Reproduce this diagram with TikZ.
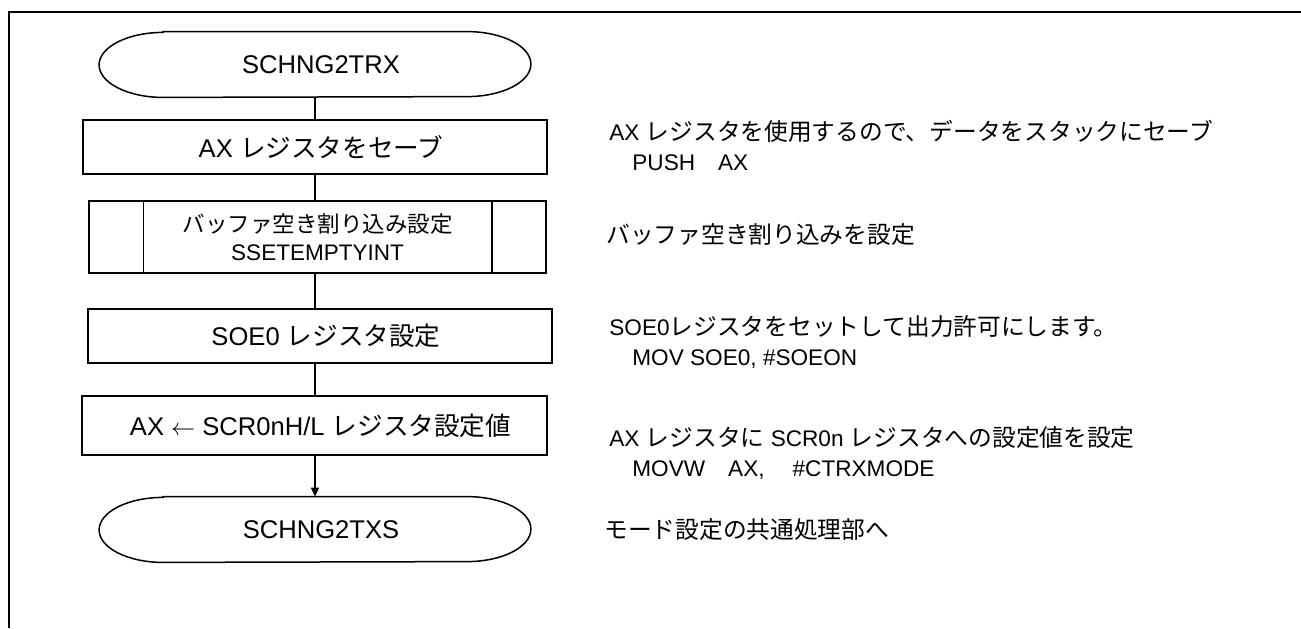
\documentclass[tikz,border=0pt]{standalone}
\usepackage{fontspec}
\setmainfont{Liberation Sans}
\newfontfamily\jp{Noto Sans CJK JP}
\newfontfamily\notejp[Scale=1.05]{Noto Sans CJK JP}
\usetikzlibrary{arrows.meta}

\tikzset{
  procbox/.style={draw,line width=0.75pt,inner sep=0pt,minimum width=232pt,minimum height=27pt,font=\fontsize{12.8pt}{15pt}\selectfont},
  termbox/.style={inner sep=0pt,minimum width=215.5pt,minimum height=32.5pt,font=\fontsize{12.8pt}{15pt}\selectfont},
  notetext/.style={anchor=west,align=left,inner sep=0pt,font=\fontsize{11.3pt}{15pt}\selectfont},
  flow/.style={line width=0.75pt},
}

% outline of a terminal node
\newcommand\termoutline[1]{%
  \draw[flow] ([xshift=32pt]#1.north west) -- ([xshift=-32pt]#1.north east)
    arc[start angle=90,end angle=-90,x radius=32pt,y radius=16.25pt]
    -- ([xshift=32pt]#1.south west)
    arc[start angle=270,end angle=90,x radius=32pt,y radius=16.25pt] -- cycle;}

\begin{document}
\begin{tikzpicture}[x=0.5pt,y=-0.5pt]

\useasboundingbox (0,0) rectangle (1301,628);
\draw[line width=1pt] (9,628) -- (9,12) -- (1301,12);

\node[termbox] (trx) at (315,64.5) {\hspace*{6pt}SCHNG2TRX};
\termoutline{trx}
\node[procbox] (save) at (315,147) {\hspace*{6pt}AX {\jp レジスタをセーブ}};
\node[procbox,minimum width=228.5pt,minimum height=36pt,align=center,font=\fontsize{11.25pt}{14pt}\selectfont] (bufint) at (317.5,237) {{\jp バッファ空き割り込み設定}\\SSETEMPTYINT};
\draw[flow] ([xshift=27.5pt]bufint.north west) -- ([xshift=27.5pt]bufint.south west);
\draw[flow] ([xshift=-27.5pt]bufint.north east) -- ([xshift=-27.5pt]bufint.south east);
\node[procbox] (soe) at (320,336) {\hspace*{6pt}SOE0 {\jp レジスタ設定}};
\node[procbox,minimum width=232.5pt,minimum height=29.5pt] (axset) at (314.5,425.5) {\hspace*{6pt}AX $\leftarrow$ SCR0nH/L {\jp レジスタ設定値}};
\node[termbox] (txs) at (315,529.5) {\hspace*{6pt}SCHNG2TXS};
\termoutline{txs}

\draw[flow] (trx.south) -- (trx.south |- save.north);
\draw[flow] (trx.south |- save.south) -- (trx.south |- bufint.north);
\draw[flow] (trx.south |- bufint.south) -- (trx.south |- soe.north);
\draw[flow] (trx.south |- soe.south) -- (trx.south |- axset.north);
\draw[flow,-{Triangle[width=4pt,length=4.5pt]}] (trx.south |- axset.south) -- (txs.north);

% comments
\node[notetext] (n1) at (609,145) {AX {\notejp レジスタを使用するので、データをスタックにセーブ}\\\hspace*{11.5pt}PUSH\hspace{11.5pt}AX};
\node[notetext] (n2) at (606,235) {\notejp バッファ空き割り込みを設定};
\node[notetext] (n3) at (609,342) {SOE0{\notejp レジスタをセットして出力許可にします。}\\\hspace*{11.5pt}MOV SOE0, \#SOEON};
\node[notetext] (n4) at (609,453) {AX {\notejp レジスタに} SCR0n {\notejp レジスタへの設定値を設定}\\\hspace*{11.5pt}MOVW\hspace{11.5pt}AX,\hspace{14pt}\#CTRXMODE};
\node[notetext] (n5) at (604,530) {\notejp モード設定の共通処理部へ};

\end{tikzpicture}
\end{document}
